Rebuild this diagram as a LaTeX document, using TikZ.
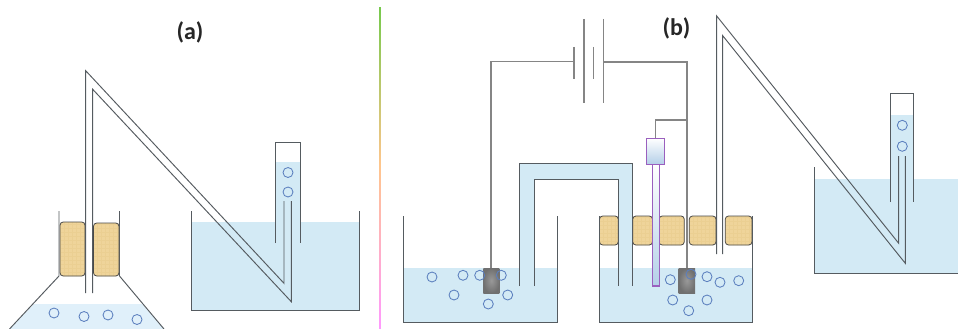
\documentclass[tikz,border=0pt]{standalone}
\usepackage{fontspec}
\setmainfont{Carlito}
\definecolor{waterc}{HTML}{D3EAF5}
\definecolor{flaskw}{HTML}{E0F0FA}
\definecolor{corkc}{HTML}{EFD49A}
\definecolor{corkl}{HTML}{EBCF92}
\definecolor{bubblec}{HTML}{5B7FBE}
\definecolor{glassc}{HTML}{555B60}
\definecolor{wirec}{HTML}{858585}
\definecolor{refc}{HTML}{9A5FBE}
\definecolor{refb}{HTML}{B4CFE8}
\tikzset{
  glass/.style={draw=glassc,line width=0.95pt,line join=miter},
  wire/.style={draw=wirec,line width=1.35pt},
  water/.style={fill=waterc,draw=none},
  cork/.style={fill=corkc,draw=black!72,line width=0.8pt,rounded corners=3.2pt,
    path picture={
      \foreach \k in {0,4,...,80} {
        \draw[corkl,line width=0.3pt] ([xshift=\k pt]path picture bounding box.south west) -- ([xshift=\k pt]path picture bounding box.north west);
        \draw[corkl,line width=0.3pt] ([yshift=\k pt]path picture bounding box.south west) -- ([yshift=\k pt]path picture bounding box.south east);
      }}},
  bubble/.style={draw=bubblec,line width=0.85pt,fill=none},
  electrode/.style={draw=none,inner color=black!40,outer color=black!56},
  title/.style={font=\bfseries\fontsize{24}{26}\selectfont,text=black!85,inner sep=0pt}
}
\begin{document}
\begin{tikzpicture}[x=1pt,y=-1pt]
\useasboundingbox[fill=white] (0,0) rectangle (958,329);
\clip (0,0) rectangle (958,329);

% divider
\shade[top color=green!55!lime!70!black!70!white,bottom color=orange!45] (379.2,8) rectangle (380.8,165);
\shade[top color=orange!45,bottom color=magenta!40] (379.2,165) rectangle (380.8,329);

% ---------- (a) ----------
\node[title] (ta) at (190,32) {(a)};
% flask
\fill[flaskw] (34,304) -- (142,304) -- (164,329) -- (10,329) -- cycle;
\draw[glass] (59,211) -- (59,276) -- (9.5,329);
\draw[glass] (119.5,211) -- (119.5,276) -- (164,329);
\draw[cork] (60,222) rectangle (85,276);
\draw[cork] (93.5,223) rectangle (119,276);
\foreach \p in {(54,313),(84,316.5),(108,315),(137,319.5)} \draw[bubble] \p circle (5);
% beaker a
\fill[water] (191.7,222) rectangle (359,310.5);
\draw[glass] (191.7,211) -- (191.7,310.5) -- (359,310.5) -- (359,211);
% test tube a
\fill[water] (275.5,162) rectangle (300.5,222);
\draw[glass] (275.5,243) -- (275.5,142) -- (300.5,142) -- (300.5,243);
\foreach \p in {(288,172.5),(288,192)} \draw[bubble] \p circle (5);
% delivery tube a
\draw[glass] (85.7,293) -- (85.7,70.7) -- (284,283.3) -- (284,201);
\draw[glass] (92.7,293) -- (92.7,89.3) -- (291.3,301.7) -- (291.3,201);

% ---------- (b) ----------
\node[title] (tb) at (676.5,28) {(b)};
% left and right beakers
\fill[water] (403.7,268) rectangle (557,322);
\fill[water] (599.7,268) rectangle (752.7,322);
% salt bridge
\fill[water] (519.3,286) -- (519.3,163) -- (632.7,163) -- (632.7,286) -- (618.3,286) -- (618.3,179.3) -- (534.3,179.3) -- (534.3,286) -- cycle;
% corks
\draw[cork] (599.5,216) rectangle (618.3,245);
\draw[cork] (632.7,216) rectangle (652.5,245);
\draw[cork] (659,216) rectangle (684.3,245);
\draw[cork] (689.3,216) rectangle (716,245);
\draw[cork] (725.3,216) rectangle (752,245);
\draw[glass] (403.7,216) -- (403.7,322) -- (557,322) -- (557,216);
\draw[glass] (599.7,216) -- (599.7,322) -- (752.7,322) -- (752.7,216);
\draw[glass] (519.3,286) -- (519.3,163) -- (632.7,163) -- (632.7,286);
\draw[glass] (534.3,286) -- (534.3,179.3) -- (618.3,179.3) -- (618.3,286);
% battery and wires
\draw[wire] (584,19) -- (584,103);
\draw[wire] (603.7,19) -- (603.7,103);
\draw[wire] (574,47) -- (574,79);
\draw[wire] (593.3,47) -- (593.3,79);
\draw[wire] (574,61.5) -- (491,61.5) -- (491,268);
\draw[wire] (603.7,62) -- (687,62) -- (687,268);
\draw[wire,line width=1.1pt] (687,120) -- (655.4,120) -- (655.4,138);
% reference electrode
\draw[draw=refc,line width=1pt,top color=white,bottom color=refb] (646.7,138.3) rectangle (664,164.3);
\draw[draw=refc,line width=1.1pt,top color=white,bottom color=refb] (652.3,164.3) rectangle (659.3,286);
% electrodes
\shade[electrode] (483.3,268) rectangle (499.3,293);
\shade[electrode] (678.7,268) rectangle (695,293);
\foreach \p in {(432,277),(463,275.3),(479.7,275.3),(501.3,275.3),(454,295),(507.7,295),(488.3,304),
  (670.3,279.7),(691,274.3),(707,276.7),(720,282.3),(738.7,280.7),(672.7,300),(707,300),(688.7,310.7)}
  \draw[bubble] \p circle (5);
% right beaker b
\fill[water] (814.3,179.3) rectangle (958,273.3);
\draw[glass] (814.3,167.3) -- (814.3,273.3) -- (958,273.3);
% test tube b
\fill[water] (890.7,114.7) rectangle (913.3,179.3);
\draw[glass] (890.7,202) -- (890.7,93.7) -- (913.3,93.7) -- (913.3,202);
\foreach \p in {(902.3,125.3),(902.3,146.3)} \draw[bubble] \p circle (5);
% delivery tube b
\draw[glass] (716.7,254) -- (716.7,16) -- (898.7,243.3) -- (898.7,156);
\draw[glass] (722.7,254) -- (722.7,35.7) -- (905.3,263.3) -- (905.3,156);
\end{tikzpicture}
\end{document}
